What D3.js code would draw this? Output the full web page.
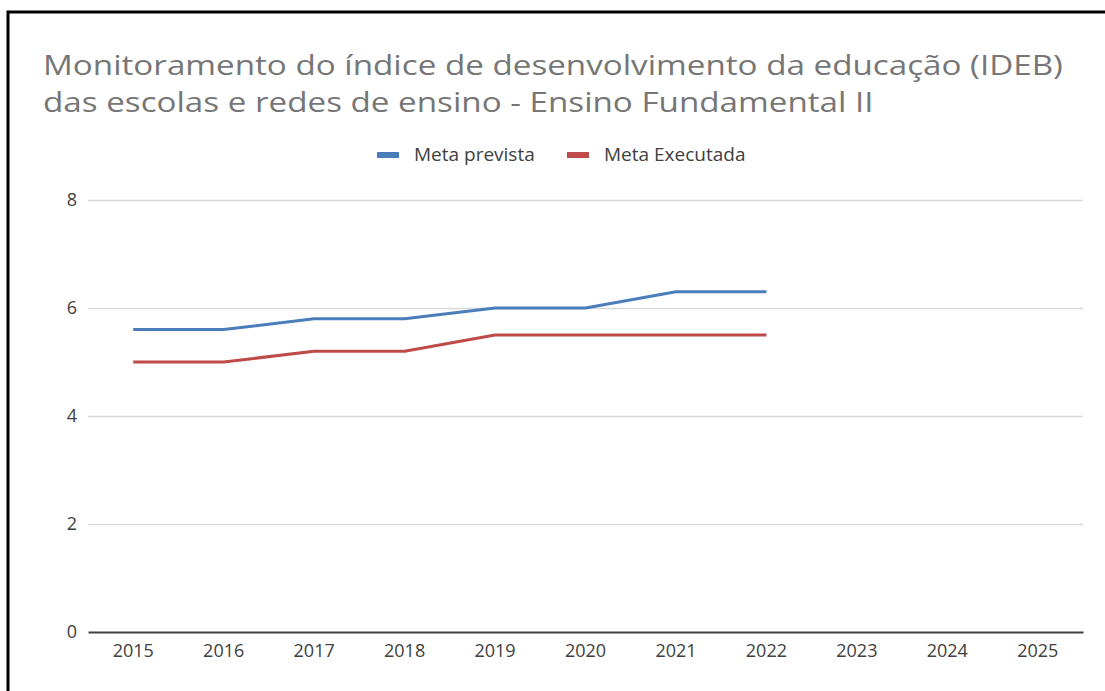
<html>
  <head>
    <meta charset="utf-8">
    <style>
      body { margin: 0; background: #fff; }
      svg { display: block; font-family: "Open Sans", "Noto Sans", sans-serif; }
      .grid line { stroke: #d9d9d9; stroke-width: 1.5px; }
      .axis text { fill: #404040; font-size: 18px; font-family: "Open Sans", sans-serif; }
      .line { fill: none; stroke-width: 3px; stroke-linejoin: round; }
    </style>
  </head>
<body>
  <svg width="1105" height="691"></svg>
  <script src="https://d3js.org/d3.v7.min.js"></script>
  <script>
    var years = ["2015", "2016", "2017", "2018", "2019", "2020", "2021", "2022", "2023", "2024", "2025"];
    var metaPrevista = [5.6, 5.6, 5.8, 5.8, 6.0, 6.0, 6.3, 6.3];
    var metaExecutada = [5.0, 5.0, 5.2, 5.2, 5.5, 5.5, 5.5, 5.5];
    var yTicks = [0, 2, 4, 6, 8];
    var titleLines = [
      "Monitoramento do índice de desenvolvimento da educação (IDEB)",
      "das escolas e redes de ensino - Ensino Fundamental II"
    ];
    var series = [
      {name: "Meta prevista", color: "#4a7ebb", values: metaPrevista},
      {name: "Meta Executada", color: "#be4b48", values: metaExecutada}
    ];

    var svg = d3.select("svg");

    // outer frame (right and bottom edges fall outside the picture)
    svg.append("rect")
      .attr("x", 8).attr("y", 12)
      .attr("width", 1200).attr("height", 800)
      .attr("fill", "none").attr("stroke", "#000").attr("stroke-width", 3);

    // title: the source picture is stretched sideways, so stretch the text to its width
    var title = svg.append("g")
      .attr("fill", "#767676")
      .attr("font-size", 27);
    title.selectAll("text")
      .data(titleLines)
      .enter().append("text")
        .attr("x", 0)
        .attr("y", function(d, i) { return 75 + i * 37; })
        .text(function(d) { return d; });
    var sx = 1020 / title.select("text").node().getComputedTextLength();
    title.attr("transform", "translate(43,0) scale(" + sx + ",1)");

    var margin = {top: 200, left: 88, right: 22, bottom: 60};
    var width = 1105 - margin.left - margin.right;
    var height = 632 - margin.top;
    var g = svg.append("g").attr("transform", "translate(" + margin.left + "," + margin.top + ")");

    var x = d3.scaleBand().domain(years).range([0, width]);
    var y = d3.scaleLinear().domain([0, 8]).range([height, 0]);

    g.append("g")
        .attr("class", "grid")
        .call(d3.axisLeft(y).tickValues(yTicks.slice(1)).tickSize(-width).tickFormat(""))
        .call(function(s) { s.select(".domain").remove(); });

    g.append("g")
        .attr("class", "axis")
        .call(d3.axisLeft(y).tickValues(yTicks).tickSize(0).tickPadding(11))
        .call(function(s) { s.select(".domain").remove(); });

    var xAxis = g.append("g")
        .attr("class", "axis")
        .attr("transform", "translate(0," + height + ")")
        .call(d3.axisBottom(x).tickSize(0).tickPadding(12));
    xAxis.select(".domain").attr("stroke", "#404040").attr("stroke-width", 2);

    var line = d3.line()
      .x(function(d, i) { return x(years[i]) + x.bandwidth() / 2; })
      .y(function(d) { return y(d); });

    g.selectAll(".line")
      .data(series)
      .enter().append("path")
        .attr("class", "line")
        .attr("stroke", function(d) { return d.color; })
        .attr("d", function(d) { return line(d.values); });

    // legend
    var legend = svg.append("g").attr("transform", "translate(377,155)");
    var item = legend.selectAll("g")
      .data(series)
      .enter().append("g")
        .attr("transform", function(d, i) { return "translate(" + (i * 190) + ",0)"; });
    item.append("rect")
      .attr("x", 0).attr("y", -3)
      .attr("width", 22).attr("height", 6)
      .attr("fill", function(d) { return d.color; });
    item.append("text")
      .attr("x", 37).attr("y", 6)
      .attr("fill", "#404040")
      .attr("font-size", 19)
      .text(function(d) { return d.name; });
  </script>
</body>
</html>
